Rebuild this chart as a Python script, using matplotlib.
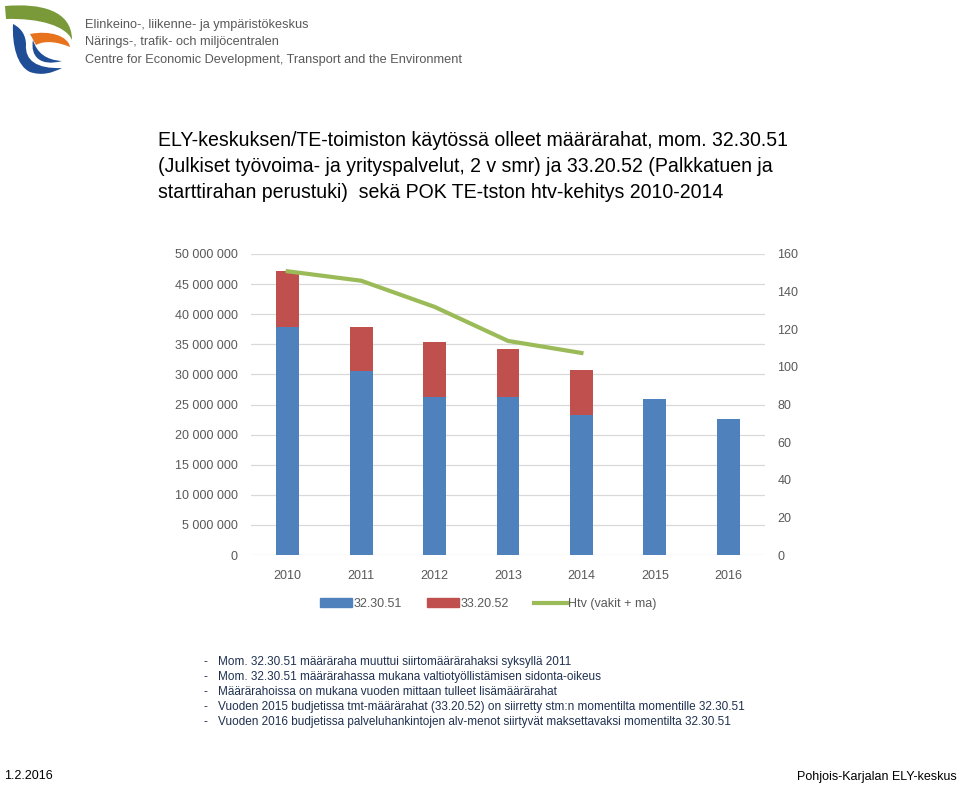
import matplotlib
matplotlib.use("Agg")
import matplotlib.pyplot as plt
from matplotlib.path import Path
from matplotlib.patches import PathPatch, Patch
from matplotlib.lines import Line2D
from matplotlib.ticker import FuncFormatter, MultipleLocator

# donnees
vuodet = ["2010", "2011", "2012", "2013", "2014", "2015", "2016"]
mom_323051 = [37.9e6, 30.6e6, 26.3e6, 26.3e6, 23.2e6, 25.9e6, 22.6e6]
mom_332052 = [9.2e6, 7.3e6, 9.0e6, 7.9e6, 7.6e6, 0, 0]
htv_vuodet = ["2010", "2011", "2012", "2013", "2014"]
htv = [150.8, 145.8, 131.9, 113.8, 107.4]

otsikko = ["ELY-keskuksen/TE-toimiston käytössä olleet määrärahat, mom. 32.30.51",
           "(Julkiset työvoima- ja yrityspalvelut, 2 v smr) ja 33.20.52 (Palkkatuen ja",
           "starttirahan perustuki)  sekä POK TE-tston htv-kehitys 2010-2014"]
huomiot = [
    "Mom. 32.30.51 määräraha muuttui siirtomäärärahaksi syksyllä 2011",
    "Mom. 32.30.51 määrärahassa mukana valtiotyöllistämisen sidonta-oikeus",
    "Määrärahoissa on mukana vuoden mittaan tulleet lisämäärärahat",
    "Vuoden 2015 budjetissa tmt-määrärahat (33.20.52) on siirretty stm:n momentilta momentille 32.30.51",
    "Vuoden 2016 budjetissa palveluhankintojen alv-menot siirtyvät maksettavaksi momentilta 32.30.51",
]
logo_rivit = ["Elinkeino-, liikenne- ja ympäristökeskus",
              "Närings-, trafik- och miljöcentralen",
              "Centre for Economic Development, Transport and the Environment"]

SININEN = "#4F81BD"
PUNAINEN = "#C0504D"
VIHREA = "#9BBB59"
HARMAA = "#595959"

plt.rcParams["font.family"] = ["Liberation Sans", "DejaVu Sans"]

W, H = 960, 786
fig = plt.figure(figsize=(W / 100, H / 100), dpi=100)


def px(x0, y0, x1, y1):
    """boite en pixels (haut-gauche / bas-droite) -> coordonnees figure"""
    return [x0 / W, 1 - y1 / H, (x1 - x0) / W, (y1 - y0) / H]


# --- logo ---
lax = fig.add_axes(px(0, 0, 80, 80))
lax.set_xlim(0, 80)
lax.set_ylim(80, 0)
lax.axis("off")
M, C, Z = Path.MOVETO, Path.CURVE4, Path.CLOSEPOLY
vihrea = Path([(5, 6), (40, 3), (72, 10), (72, 40), (66, 26), (40, 18), (6, 19), (5, 6)],
              [M, C, C, C, C, C, C, Z])
sininen = Path([(13, 24), (12, 45), (17, 66), (30, 72), (42, 76), (52, 73), (62, 68),
                (36, 69), (25, 60), (26, 45), (26, 35), (21, 28), (13, 24), (13, 24)],
               [M, C, C, C, C, C, C, C, C, C, C, C, C, Z])
sisempi = Path([(33, 40), (30, 56), (40, 67), (62, 61), (46, 60), (37, 53), (33, 40), (33, 40)],
               [M, C, C, C, C, C, C, Z])
oranssi = Path([(30, 34), (50, 30), (68, 36), (70, 47), (58, 42), (45, 40), (36, 45), (30, 34)],
               [M, C, C, C, C, C, C, Z])
lax.add_patch(PathPatch(vihrea, fc="#7A9A3A", ec="none"))
lax.add_patch(PathPatch(sininen, fc="#1F4E96", ec="none"))
lax.add_patch(PathPatch(sisempi, fc="#1F4E96", ec="none"))
lax.add_patch(PathPatch(oranssi, fc="#E8731E", ec="none"))
for i, rivi in enumerate(logo_rivit):
    fig.text(85 / W, 1 - (25 + i * 17.5) / H, rivi, fontsize=9.2, color=HARMAA,
             va="center", ha="left")

# --- titre ---
for i, rivi in enumerate(otsikko):
    fig.text(158 / W, 1 - (140 + i * 26.5) / H, rivi, fontsize=14.05, color="black",
             va="center", ha="left")

# --- graphique ---
ax = fig.add_axes(px(251, 254, 765, 555))
x = range(len(vuodet))
ax.bar(x, mom_323051, width=0.31, color=SININEN, zorder=2)
ax.bar(x, mom_332052, width=0.31, bottom=mom_323051, color=PUNAINEN, zorder=2)
ax.set_xlim(-0.5, len(vuodet) - 0.5)
ax.set_ylim(0, 50e6)
ax.yaxis.set_major_locator(MultipleLocator(5e6))
ax.yaxis.set_major_formatter(FuncFormatter(lambda v, p: f"{v:,.0f}".replace(",", " ")))
ax.set_xticks(list(x))
ax.set_xticklabels(vuodet)
ax.grid(axis="y", color="#D9D9D9", lw=0.9, zorder=0)
for s in ax.spines.values():
    s.set_visible(False)
ax.tick_params(length=0, labelsize=9, labelcolor=HARMAA)
ax.tick_params(axis="x", pad=11)
ax.tick_params(axis="y", pad=9.5)

ax2 = ax.twinx()
ax2.plot([vuodet.index(v) for v in htv_vuodet], htv, color=VIHREA, lw=3, zorder=3)
ax2.set_ylim(0, 160)
ax2.yaxis.set_major_locator(MultipleLocator(20))
for s in ax2.spines.values():
    s.set_visible(False)
ax2.tick_params(length=0, labelsize=9, labelcolor=HARMAA, pad=9)

kahvat = [Patch(color=SININEN), Patch(color=PUNAINEN), Line2D([], [], color=VIHREA, lw=3)]
fig.legend(kahvat, ["32.30.51", "33.20.52", "Htv (vakit + ma)"], loc="center",
           bbox_to_anchor=(488 / W, 1 - 604 / H), ncol=3, frameon=False,
           fontsize=9, labelcolor=HARMAA, handlelength=2.6, handleheight=0.65,
           handletextpad=0.1, columnspacing=2.0)

# --- notes ---
for i, h in enumerate(huomiot):
    y = 1 - (662 + i * 15) / H
    fig.text(203 / W, y, "-", fontsize=8.5, color="#1F3050", va="center")
    fig.text(218 / W, y, h, fontsize=8.5, color="#1F3050", va="center")

# --- pied de page ---
fig.text(4 / W, 1 - 776 / H, "1.2.2016", fontsize=9, va="center", ha="left")
fig.text(957 / W, 1 - 777 / H, "Pohjois-Karjalan ELY-keskus", fontsize=9,
         va="center", ha="right")

fig.savefig("out.png", dpi=100)
